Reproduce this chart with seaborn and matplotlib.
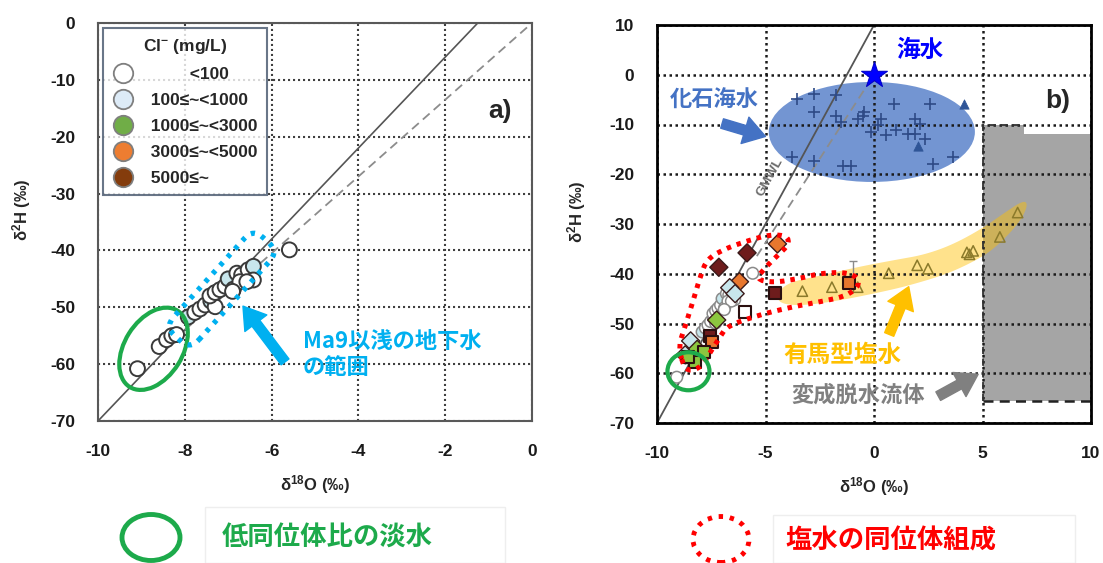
import numpy as np
import matplotlib
matplotlib.use("Agg")
import matplotlib.pyplot as plt
import seaborn as sns
from matplotlib.patches import Ellipse, Polygon, FancyBboxPatch, Rectangle
from matplotlib.lines import Line2D
from matplotlib.transforms import ScaledTranslation, Affine2D

# ---------------- data ----------------
cl_labels = ["<100", "100≤~<1000", "1000≤~<3000", "3000≤~<5000", "5000≤~"]
cl_legend_colors = ["#FFFFFF", "#DDEBF7", "#70AD47", "#ED7D31", "#843C0C"]
cl_point_colors = ["#FFFFFF", "#C8E6EC", "#8CC63F", "#E8772E", "#6E1C1C"]

# shallow groundwater (above Ma9)
gw_d18o = [-9.09, -8.59, -8.42, -8.30, -8.19, -7.92, -7.77, -7.65, -7.53, -7.40,
           -7.30, -7.42, -7.30, -7.19, -7.07, -7.00, -6.88, -6.80, -6.69, -6.73,
           -6.54, -6.42, -6.42, -6.57, -6.90, -5.59]
gw_d2h = [-60.8, -56.9, -55.7, -55.0, -54.8, -51.7, -50.9, -50.3, -49.6, -48.9,
          -49.9, -48.0, -47.4, -46.9, -46.3, -45.0, -46.8, -44.0, -44.3, -45.5,
          -43.4, -42.8, -45.2, -45.5, -47.2, -39.9]
gw_cl = [0, 0, 0, 0, 0, 1, 0, 0, 0, 1,
         0, 0, 0, 0, 0, 1, 0, 0, 0, 0,
         0, 1, 0, 0, 0, 0]

# saline groundwater, diamonds
dia_d18o = [-5.85, -7.15, -4.45, -6.20, -6.65, -6.40, -7.25, -8.45, -8.15, -8.70]
dia_d2h = [-35.8, -38.7, -34.0, -41.6, -42.8, -44.0, -49.3, -53.5, -55.2, -56.3]
dia_cl = [4, 4, 3, 3, 1, 1, 2, 1, 2, 1]

# saline groundwater, squares
sq_d18o = [-4.55, -1.15, -5.95, -7.55, -7.45, -7.85, -8.25, -8.55]
sq_d2h = [-43.8, -41.8, -47.6, -52.6, -53.8, -55.8, -57.8, -56.8]
sq_cl = [4, 3, 0, 4, 3, 2, 2, 2]

# Arima-type brine
arima_d18o = [-3.30, -1.94, -0.75, 0.68, 1.99, 2.49, 4.28, 4.57, 4.40, 5.80, 6.62]
arima_d2h = [-43.5, -42.7, -42.7, -39.9, -38.3, -39.0, -35.7, -35.4, -36.1, -32.6, -27.7]

# fossil seawater
fossil_d18o = [-3.53, -2.76, -1.76, -2.76, -1.76, -1.53, -0.75, -0.52, -0.45, 0.17,
               0.32, 0.94, 2.56, 1.87, 2.10, -0.14, 0.56, 1.02, 1.56, 1.87,
               2.33, -3.76, -2.76, -1.45, -1.06, 2.72, 3.64]
fossil_d2h = [-4.8, -3.8, -4.0, -7.5, -8.2, -9.5, -8.9, -8.2, -7.5, -10.2,
              -8.9, -5.8, -5.8, -8.9, -9.9, -11.6, -12.2, -11.2, -11.9, -11.9,
              -12.9, -16.6, -17.3, -18.3, -18.3, -17.9, -16.6]
fossil_tri_d18o = [4.17, 2.04]
fossil_tri_d2h = [-5.8, -14.3]

seawater_d18o = [0.0]
seawater_d2h = [0.0]

# meteoric water lines
gmwl_slope, gmwl_icpt = 8.0, 10.0
mix_slope = 6.75

# ---------------- style ----------------
sns.set_theme(style="white")
plt.rcParams["font.family"] = ["Liberation Sans", "DejaVu Sans"]
plt.rcParams["font.weight"] = "bold"
plt.rcParams["axes.labelweight"] = "bold"
plt.rcParams["axes.unicode_minus"] = False
plt.rcParams["mathtext.fontset"] = "custom"
plt.rcParams["mathtext.bf"] = "Liberation Sans:bold"
plt.rcParams["mathtext.rm"] = "Liberation Sans:bold"
plt.rcParams["mathtext.default"] = "bf"

JP = ["Noto Sans CJK JP", "Liberation Sans", "DejaVu Sans"]

fig = plt.figure(figsize=(11.03, 5.63), dpi=100)
W, H = 1103, 563
axa = fig.add_axes([98 / W, 1 - 421 / H, (532 - 98) / W, (421 - 23) / H])
axb = fig.add_axes([657 / W, 1 - 423 / H, (1091 - 657) / W, (423 - 25) / H])


def px_anchor(ax, x, y):
    return fig.dpi_scale_trans + ScaledTranslation(x, y, ax.transData)


def chaikin(pts, n=3):
    p = np.asarray(pts, float)
    for _ in range(n):
        q = np.roll(p, -1, axis=0)
        p = np.column_stack([0.75 * p + 0.25 * q, 0.25 * p + 0.75 * q]).reshape(-1, 2)
    return p


def big_arrow(ax, start, end, color, scale=22):
    ax.annotate("", xy=end, xytext=start,
                arrowprops=dict(arrowstyle="simple,head_length=0.7,head_width=0.9,tail_width=0.32",
                                color=color, shrinkA=0, shrinkB=0, mutation_scale=scale),
                zorder=6)


def style_axes(ax, spine_color, spine_w, grid_color, grid_w):
    for s in ax.spines.values():
        s.set_visible(True)
        s.set_color(spine_color)
        s.set_linewidth(spine_w)
    ax.tick_params(direction="inout", length=7, width=spine_w, color=spine_color,
                   labelsize=12.5, pad=13, labelcolor="#1a1a1a")
    ax.grid(True, color=grid_color, linewidth=grid_w, linestyle=(0, (1, 1.4)))
    ax.set_axisbelow("line")
    for lab in ax.get_xticklabels() + ax.get_yticklabels():
        lab.set_fontweight("bold")


# ---------------- panel a ----------------
ax = axa
ax.set_xlim(-10, 0)
ax.set_ylim(-70, 0)
ax.set_xticks(np.arange(-10, 0.1, 2))
ax.set_yticks(np.arange(-70, 0.1, 10))
style_axes(ax, "#595959", 1.5, "#404040", 1.5)

xg = np.array([-10, (0 - gmwl_icpt) / gmwl_slope])
ax.plot(xg, gmwl_slope * xg + gmwl_icpt, color="#555555", lw=1.2, zorder=2)
xm = np.array([-8.0, 0.0])
ax.plot(xm, mix_slope * xm, color="#8c8c8c", lw=1.3, ls=(0, (5, 3)), zorder=2)

sns.scatterplot(x=gw_d18o, y=gw_d2h, hue=gw_cl,
                palette={0: cl_point_colors[0], 1: cl_point_colors[1]},
                s=115, edgecolor="#3a3a3a", linewidth=1.4, legend=False, ax=ax, zorder=3)

# green ellipse (low-isotope fresh water)
ax.add_patch(Ellipse((0, 0), 0.90, 0.58, angle=58, fill=False, ec="#1DAA4B", lw=3,
                     transform=px_anchor(ax, -8.72, -57.3), zorder=5))
# dotted range of groundwater above Ma9
box_tr = Affine2D().rotate_deg(48) + px_anchor(ax, -7.15, -46.8)
ax.add_patch(FancyBboxPatch((-0.66, -0.17), 1.32, 0.34,
                            boxstyle="round,pad=0,rounding_size=0.13",
                            fill=False, ec="#00B0F0", lw=3.8, ls=(0, (0.8, 1.3)),
                            transform=box_tr, zorder=5))
big_arrow(ax, (-5.69, -59.6), (-6.66, -49.8), "#00B0F0")
ax.text(-5.28, -54.0, "Ma9以浅の地下水\nの範囲", color="#00B0F0", fontsize=16,
        family=JP, fontweight="bold", ha="left", va="top", linespacing=1.15, zorder=6)
ax.text(-0.74, -15.5, "a)", fontsize=19, fontweight="bold", ha="center", va="center")

handles = [Line2D([], [], marker="o", ls="", ms=14, mfc=c, mec="#7F7F7F", mew=1.3)
           for c in cl_legend_colors]
labels = ["          " + cl_labels[0]] + ["  " + l for l in cl_labels[1:]]
leg = ax.legend(handles, labels, title="Cl$^{-}$ (mg/L)", loc="upper left",
                bbox_to_anchor=(0.012, 0.988), borderaxespad=0, frameon=True, fancybox=False,
                prop={"size": 12.5, "weight": "bold", "family": ["Liberation Sans", "DejaVu Sans"]},
                title_fontproperties={"size": 12.5, "weight": "bold"},
                labelspacing=0.62, handletextpad=0.4, borderpad=0.55, handlelength=1.2)
leg.get_frame().set_edgecolor("#44546A")
leg.get_frame().set_linewidth(1.5)
ax.set_xlabel(r"δ$^{18}$O (‰)", fontsize=12)
ax.set_ylabel(r"δ$^{2}$H (‰)", fontsize=12)
ax.xaxis.set_label_coords(0.5, -0.13)
ax.yaxis.set_label_coords(-0.15, 0.53)

# ---------------- panel b ----------------
ax = axb
ax.set_xlim(-10, 10)
ax.set_ylim(-70, 10)
ax.set_xticks(np.arange(-10, 10.1, 5))
ax.set_yticks(np.arange(-70, 10.1, 10))
style_axes(ax, "black", 2.0, "#1a1a1a", 1.8)

# metamorphic dehydration fluid
meta = [(5, -65.5), (5, -10), (6.9, -10), (6.9, -12), (10, -12), (10, -65.5)]
ax.add_patch(Polygon(meta, closed=True, fc="#A5A5A5", ec="none", zorder=1))
ax.plot([5, 5, 6.9], [-65.5, -10, -10], color="#333333", lw=1.3, ls=(0, (4, 2.5)), zorder=1.6)
ax.plot([5, 10], [-65.5, -65.5], color="#222222", lw=1.8, ls=(0, (4, 2.5)), zorder=1.6)

# fossil seawater
ax.add_patch(Ellipse((-0.1, -11.5), 9.5, 20.1, fc="#4472C4", alpha=0.75, ec="none", zorder=1.1))

# Arima-type brine band
band = [(-4.5, -44.3), (-4.0, -41.8), (-2.5, -40.4), (-0.7, -38.6), (1.0, -37.2),
        (2.3, -36.2), (3.6, -34.2), (4.95, -31.0), (6.0, -27.8), (6.9, -25.2),
        (7.1, -26.2), (6.7, -29.8), (5.5, -35.2), (4.4, -38.0), (3.2, -40.3),
        (1.5, -42.5), (0.2, -43.8), (-1.5, -45.3), (-3.2, -46.4), (-4.3, -46.1)]
ax.add_patch(Polygon(chaikin(band, 3), closed=True, fc="#FFC000", alpha=0.45, ec="none", zorder=1.2))

xg = np.array([-10, (10 - gmwl_icpt) / gmwl_slope])
ax.plot(xg, gmwl_slope * xg + gmwl_icpt, color="#555555", lw=1.3, zorder=2)
xm = np.array([-5.4, 0.0])
ax.plot(xm, mix_slope * xm, color="#8c8c8c", lw=1.3, ls=(0, (5, 3)), zorder=2)
ax.text(-4.78, -20.5, "GMWL", color="#6a6a6a", fontsize=9.5, rotation=61,
        ha="center", va="center", zorder=2)

sns.scatterplot(x=gw_d18o, y=gw_d2h, hue=gw_cl,
                palette={0: cl_point_colors[0], 1: cl_point_colors[1]},
                s=70, edgecolor="#8a8a8a", linewidth=1.1, legend=False, ax=ax, zorder=3)
sns.scatterplot(x=dia_d18o, y=dia_d2h, hue=dia_cl,
                palette={i: cl_point_colors[i] for i in set(dia_cl)},
                marker="D", s=85, edgecolor="#3a1a1a", linewidth=1.0, legend=False, ax=ax, zorder=3.2)
sns.scatterplot(x=sq_d18o, y=sq_d2h, hue=sq_cl,
                palette={i: cl_point_colors[i] for i in set(sq_cl)},
                marker="s", s=75, edgecolor="#2b0f0f", linewidth=1.5, legend=False, ax=ax, zorder=3.2)
sns.scatterplot(x=arima_d18o, y=arima_d2h, marker="^", s=55, facecolor="none",
                edgecolor="#8B7A2B", linewidth=1.1, legend=False, ax=ax, zorder=3)
ax.errorbar([-0.95], [-39.8], yerr=[2.3], fmt="none", ecolor="#8a8a8a", elinewidth=1.0,
            capsize=3, zorder=3)
sns.scatterplot(x=fossil_d18o, y=fossil_d2h, marker="+", s=70, color="#2E4A86",
                linewidth=1.2, legend=False, ax=ax, zorder=3)
sns.scatterplot(x=fossil_tri_d18o, y=fossil_tri_d2h, marker="^", s=45, color="#2F5597",
                edgecolor="#2F5597", legend=False, ax=ax, zorder=3)
sns.scatterplot(x=seawater_d18o, y=seawater_d2h, marker="*", s=380, color="#0000FF",
                edgecolor="#0000CC", linewidth=0.8, legend=False, ax=ax, zorder=4)

# saline isotopic composition outline
red_outline = [(-8.78, -58.6), (-9.01, -54.6), (-8.70, -50.5), (-8.32, -45.2), (-8.0, -40.5),
               (-7.70, -37.1), (-6.93, -35.1), (-5.85, -33.4), (-4.77, -32.1), (-4.0, -32.4),
               (-3.92, -34.1), (-4.46, -36.4), (-4.93, -38.4), (-5.46, -41.1), (-4.62, -41.8),
               (-3.38, -40.9), (-2.45, -39.9), (-1.39, -39.7), (-0.83, -40.5), (-0.69, -41.7),
               (-0.83, -43.1), (-1.39, -44.6), (-2.45, -45.6), (-3.70, -46.6), (-5.23, -48.2),
               (-6.77, -50.5), (-7.08, -52.6), (-7.55, -55.8), (-7.93, -58.6), (-8.47, -59.6)]
ax.add_patch(Polygon(chaikin(red_outline, 2), closed=True, fill=False, ec="#FF0000",
                     lw=3.6, ls=(0, (0.9, 1.2)), zorder=4.5))
ax.add_patch(Ellipse((0, 0), 0.42, 0.38, fill=False, ec="#1DAA4B", lw=3,
                     transform=px_anchor(ax, -8.55, -59.6), zorder=5))

ax.text(2.12, 5.0, "海水", color="#0000FF", fontsize=17, family=JP, fontweight="bold",
        ha="center", va="center")
ax.text(-7.35, -5.1, "化石海水", color="#4472C4", fontsize=16, family=JP, fontweight="bold",
        ha="center", va="center")
big_arrow(ax, (-7.0, -9.8), (-5.0, -12.4), "#4472C4")
ax.text(-1.47, -56.3, "有馬型塩水", color="#FFC000", fontsize=17, family=JP, fontweight="bold",
        ha="center", va="center")
big_arrow(ax, (0.7, -52.2), (1.6, -42.6), "#FFC000")
ax.text(-0.72, -64.4, "変成脱水流体", color="#808080", fontsize=16, family=JP, fontweight="bold",
        ha="center", va="center")
big_arrow(ax, (2.96, -64.6), (4.8, -60.2), "#808080")
ax.text(8.48, -5.2, "b)", fontsize=19, fontweight="bold", ha="center", va="center")

ax.set_xlabel(r"δ$^{18}$O (‰)", fontsize=12)
ax.set_ylabel(r"δ$^{2}$H (‰)", fontsize=12)
ax.xaxis.set_label_coords(0.5, -0.13)
ax.yaxis.set_label_coords(-0.16, 0.53)

# ---------------- bottom key ----------------
inch = fig.dpi_scale_trans
fig.add_artist(Rectangle((2.05, 0.0), 3.0, 0.56, transform=inch, fill=False, ec="#EEEEEE", lw=1))
fig.add_artist(Rectangle((7.73, 0.0), 3.02, 0.48, transform=inch, fill=False, ec="#EEEEEE", lw=1))
fig.add_artist(Ellipse((1.51, 0.255), 0.58, 0.46, transform=inch, fill=False,
                       ec="#1DAA4B", lw=3.5))
fig.add_artist(Ellipse((7.21, 0.235), 0.56, 0.46, transform=inch, fill=False,
                       ec="#FF0000", lw=3.5, ls=(0, (0.9, 1.4))))
fig.text(2.22 / 11.03, 0.245 / 5.63, "低同位体比の淡水", color="#1DAA4B", fontsize=19,
         family=JP, fontweight="bold", ha="left", va="center")
fig.text(7.85 / 11.03, 0.225 / 5.63, "塩水の同位体組成", color="#FF0000", fontsize=19,
         family=JP, fontweight="bold", ha="left", va="center")

fig.savefig("out.png", dpi=100)
